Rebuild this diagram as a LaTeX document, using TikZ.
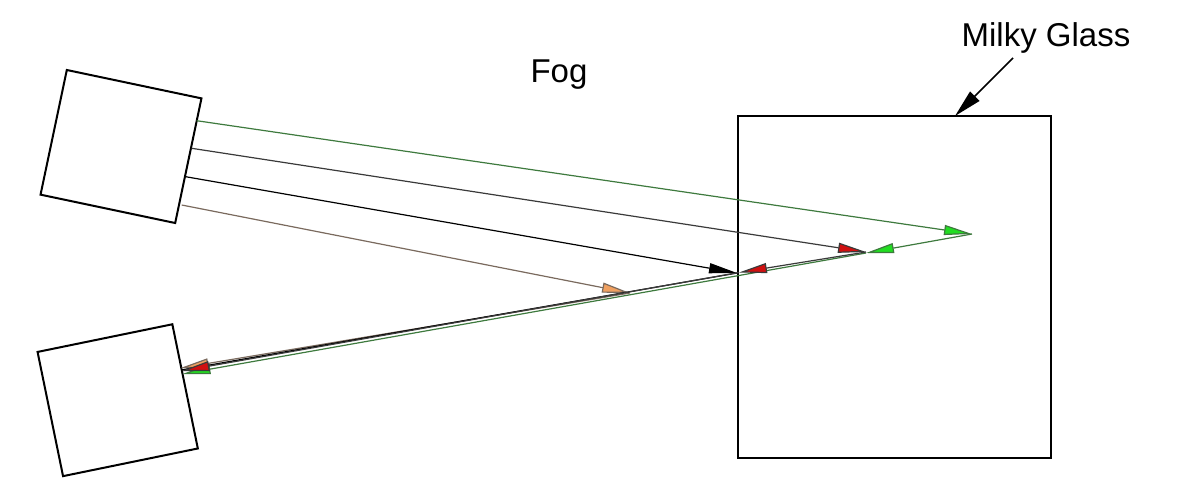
\documentclass[tikz,border=0pt]{standalone}
\usepackage{fontspec}
\setmainfont{Liberation Sans}
\usetikzlibrary{arrows.meta}
\definecolor{tgreen}{HTML}{22DD22}
\definecolor{gline}{HTML}{3E7A3E}
\definecolor{tred}{HTML}{D01010}
\definecolor{rline}{HTML}{3A3A3A}
\definecolor{torange}{HTML}{F0A060}
\definecolor{oline}{HTML}{7A6A5E}
\tikzset{
  boxshape/.style={draw, line width=1pt, inner sep=0pt, minimum width=68.8pt, minimum height=63.7pt},
  glass/.style={draw, line width=0.8pt, inner sep=0pt, minimum width=156.5pt, minimum height=171pt},
  ray/.style={line width=0.6pt},
  lbl/.style={font=\fontsize{16.5}{20}\selectfont, inner sep=0pt},
  tipG/.style={-{Triangle[length=14pt,width=5pt,fill=tgreen]}},
  tipR/.style={-{Triangle[length=14pt,width=5pt,fill=tred]}},
  tipK/.style={-{Triangle[length=14pt,width=5pt,fill=black]}},
  tipO/.style={-{Triangle[length=14pt,width=5pt,fill=torange]}},
}
\begin{document}
\begin{tikzpicture}[x=0.5pt,y=-0.5pt]
\useasboundingbox (0,0) rectangle (1200,500);
% boxes
\node[boxshape, rotate=-11.9] (src) at (121,146.5) {};
\node[boxshape, minimum height=63.4pt, rotate=11.6] (det) at (117.7,400.2) {};
\node[glass] (mg) at (894.5,287) {};
% labels
\node[lbl] (fog) at (559,75) {Fog};
\node[lbl] (mgl) at (1046,38) {Milky Glass};
\coordinate (mgA) at (1013,58);
\coordinate (mgB) at (955,116);
\draw[line width=0.8pt, -{Triangle[length=14pt,width=6.5pt]}] (mgA) -- (mgB);
% ray points
\coordinate (g0) at (196.7,120.7);
\coordinate (g1) at (972,234);
\coordinate (g2) at (866,253);
\coordinate (gb) at (182.5,374);
\coordinate (r0) at (191.7,148.3);
\coordinate (r1) at (866,252);
\coordinate (r2) at (739,272.5);
\coordinate (rb) at (181.5,371);
\coordinate (k0) at (185.7,176.7);
\coordinate (k1) at (737,273);
\coordinate (kb) at (181,370);
\coordinate (o0) at (181.7,205);
\coordinate (o1) at (630,293);
\coordinate (ob) at (180.5,368);
% green ray
\draw[ray, gline, tipG] (g0) -- (g1);
\draw[ray, gline, tipG] (g1) -- (g2);
\draw[ray, gline, tipG] (g2) -- (gb);
% orange ray
\draw[ray, oline, tipO] (o0) -- (o1);
\draw[ray, oline, tipO] (o1) -- (ob);
% black ray
\draw[ray, black, tipK] (k0) -- (k1);
\draw[ray, black] (k1) -- (kb);
% red ray
\draw[ray, rline, tipR] (r0) -- (r1);
\draw[ray, rline, tipR] (r1) -- (r2);
\draw[ray, rline, tipR] (r2) -- (rb);
\end{tikzpicture}
\end{document}
